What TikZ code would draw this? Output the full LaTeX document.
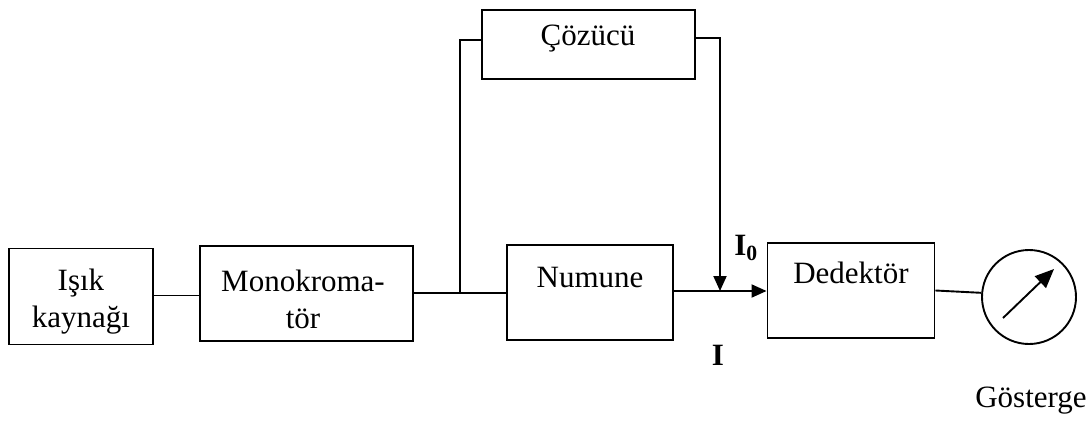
\documentclass[tikz,border=0pt]{standalone}
\usepackage{fontspec}
\setmainfont{Liberation Serif}
\usetikzlibrary{arrows.meta}
\begin{document}
\begin{tikzpicture}[x=1pt,y=-1pt,
  every node/.style={font=\fontsize{31}{37}\selectfont},
  box/.style={draw, line width=1.9pt, inner sep=0pt},
  txt/.style={inner sep=0pt, anchor=base},
  conn/.style={line width=1.9pt},
  arr/.style={line width=1.9pt, -{Triangle[length=15pt,width=13pt]}}
]
\useasboundingbox (0,0) rectangle (1092,423);
% boxes
\node (isik) [box, minimum width=144pt, minimum height=96pt] at (81,296.5) {};
\node (mono) [box, minimum width=213pt, minimum height=95pt] at (306.5,293.5) {};
\node (numune) [box, minimum width=166pt, minimum height=95pt] at (590,292.5) {};
\node (dedektor) [box, minimum width=167pt, minimum height=95pt] at (851,290.5) {};
\node (cozucu) [box, minimum width=213pt, minimum height=69pt] at (588.5,44.5) {};
\node (gauge) [draw, circle, line width=1.9pt, minimum size=94pt, inner sep=0pt] at (1029,297) {};
% texts
\node (isikt) [inner sep=0pt, align=center] at (81,302) {Işık\\kaynağı};
\node (monot) [inner sep=0pt, align=center] at (303,299) {Monokroma-\\tör};
\node (numunet) [txt] at (590,287) {Numune};
\node (dedektort) [txt] at (851,283) {Dedektör};
\node (cozucut) [txt] at (588,45) {Çözücü};
\node (gosterge) [txt] at (1031,407) {Gösterge};
\node (izero) [inner sep=0pt] at (746,248) {\textbf{I\textsubscript{0}}};
\node (ilabel) [inner sep=0pt] at (718,355) {\textbf{I}};
% coordinates
\coordinate (split) at (460,293);
\coordinate (cl) at (460,40);
\coordinate (cr) at (720,38);
\coordinate (merge) at (720,291);
\coordinate (ntail) at (1003,318);
\coordinate (nhead) at (1054,269);
% connectors
\draw[conn] (isik.east |- 0,295.5) -- (mono.west |- 0,295.5);
\draw[conn] (mono.east |- split) -- (split) -- (split -| numune.west);
\draw[conn] (split) -- (cl) -- (cl -| cozucu.west);
\draw[arr] (cr -| cozucu.east) -- (cr) -- (merge);
\draw[arr] (numune.east |- merge) -- (merge -| dedektor.west);
\draw[conn] (dedektor.east) -- (gauge.175);
\draw[line width=1.9pt, -{Triangle[length=19pt,width=16pt]}] (ntail) -- (nhead);
\end{tikzpicture}
\end{document}
